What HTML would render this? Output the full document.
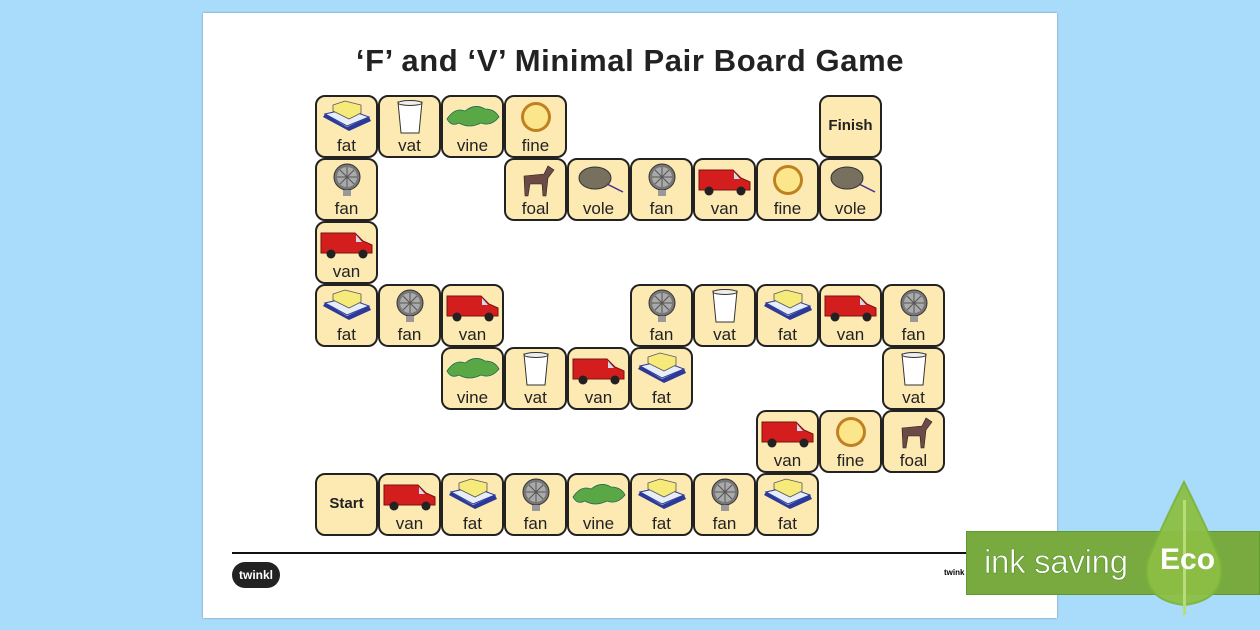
<!DOCTYPE html>
<html><head><meta charset="utf-8"><style>
body{margin:0;width:1260px;height:630px;background:#a9dcfb;position:relative;overflow:hidden;font-family:"Liberation Sans",sans-serif}
.paper{position:absolute;left:203px;top:13px;width:854px;height:605px;background:#fff;box-shadow:0 0 2px #789}
h1{position:absolute;left:203px;width:854px;top:43px;margin:0;text-align:center;font-size:31px;font-weight:bold;color:#222;letter-spacing:0.6px}
.t{position:absolute;width:59px;height:59px;background:#fdeab3;border:2px solid #222;border-radius:10px;box-sizing:content-box}
.t span{position:absolute;left:0;right:0;top:39px;text-align:center;font-size:17px;color:#222}
.t svg{position:absolute;left:2px;top:2px;width:55px;height:36px}
.t b{position:absolute;left:0;right:0;top:20px;text-align:center;font-size:15px;color:#222}
.line{position:absolute;left:232px;top:552px;width:800px;height:2px;background:#111}
.logo{position:absolute;left:232px;top:562px;width:48px;height:26px;background:#222;border-radius:13px;color:#fff;font-size:12px;font-weight:bold;text-align:center;line-height:26px}
.banner{position:absolute;left:966px;top:531px;width:294px;height:64px;background:#79aa3f;border:1px solid #5f9a2a;box-sizing:border-box}
.ink{position:absolute;left:984px;top:543px;font-size:33px;color:#fff;font-family:"Liberation Sans",sans-serif;-webkit-text-stroke:0.5px #4c8a1e;letter-spacing:-0.3px}
.eco{position:absolute;left:1160px;top:543px;font-size:30px;font-weight:bold;color:#fff}
</style></head><body>
<svg width="0" height="0" style="position:absolute">
<defs>
<symbol id="fat" viewBox="0 0 55 36"><path d="M4 18 L30 32 L52 22 L50 18 L28 28 L6 15Z" fill="#2b3a9a"/><path d="M6 15 L28 27 L50 18 L28 10Z" fill="#e8eef8" stroke="#2b3a9a"/><path d="M14 12 L30 20 L42 14 L42 6 L26 2 L14 6Z" fill="#f6ea7a" stroke="#555" stroke-width=".8"/></symbol>
<symbol id="vat" viewBox="0 0 55 36"><path d="M16 3 L40 3 L37 34 L19 34Z" fill="#fff" stroke="#333"/><ellipse cx="28" cy="4" rx="12" ry="2.5" fill="#eee" stroke="#333"/></symbol>
<symbol id="vine" viewBox="0 0 55 36"><path d="M2 20 Q10 8 20 12 Q30 4 40 10 Q50 10 54 18 Q46 28 36 24 Q24 30 14 24 Q6 28 2 20Z" fill="#5aa845" stroke="#265" stroke-width=".8"/></symbol>
<symbol id="fine" viewBox="0 0 55 36"><circle cx="28" cy="18" r="15" fill="#c08020"/><circle cx="28" cy="18" r="12.5" fill="#fbe68c" stroke="#c08020"/></symbol>
<symbol id="fan" viewBox="0 0 55 36"><circle cx="28" cy="15" r="13" fill="#777" stroke="#333"/><circle cx="28" cy="15" r="10" fill="#aaa"/><path d="M28 5 L28 25 M18 15 L38 15 M21 8 L35 22 M35 8 L21 22" stroke="#555"/><rect x="24" y="28" width="8" height="6" fill="#999"/></symbol>
<symbol id="van" viewBox="0 0 55 36"><path d="M2 24 L2 8 L36 8 L44 16 L53 20 L53 28 L2 28Z" fill="#d41e1e" stroke="#711"/><path d="M37 10 L43 17 L37 17Z" fill="#cde"/><circle cx="12" cy="29" r="4.5" fill="#222"/><circle cx="44" cy="29" r="4.5" fill="#222"/></symbol>
<symbol id="vole" viewBox="0 0 55 36"><ellipse cx="24" cy="16" rx="16" ry="11" fill="#77705e" stroke="#333"/><path d="M36 22 L52 30" stroke="#4a2d8a" stroke-width="1.5"/></symbol>
<symbol id="foal" viewBox="0 0 55 36"><path d="M16 14 L36 12 L40 4 L46 8 L40 16 L38 34 L35 34 L34 22 L22 22 L20 34 L17 34Z" fill="#6d4a45" stroke="#222" stroke-width=".6"/></symbol>
</defs></svg>
<div class="paper"></div>
<h1>‘F’ and ‘V’ Minimal Pair Board Game</h1>

<div class="t" style="left:315px;top:95px"><svg><use href="#fat"/></svg><span>fat</span></div>
<div class="t" style="left:378px;top:95px"><svg><use href="#vat"/></svg><span>vat</span></div>
<div class="t" style="left:441px;top:95px"><svg><use href="#vine"/></svg><span>vine</span></div>
<div class="t" style="left:504px;top:95px"><svg><use href="#fine"/></svg><span>fine</span></div>
<div class="t" style="left:819px;top:95px"><b>Finish</b></div>

<div class="t" style="left:315px;top:158px"><svg><use href="#fan"/></svg><span>fan</span></div>
<div class="t" style="left:504px;top:158px"><svg><use href="#foal"/></svg><span>foal</span></div>
<div class="t" style="left:567px;top:158px"><svg><use href="#vole"/></svg><span>vole</span></div>
<div class="t" style="left:630px;top:158px"><svg><use href="#fan"/></svg><span>fan</span></div>
<div class="t" style="left:693px;top:158px"><svg><use href="#van"/></svg><span>van</span></div>
<div class="t" style="left:756px;top:158px"><svg><use href="#fine"/></svg><span>fine</span></div>
<div class="t" style="left:819px;top:158px"><svg><use href="#vole"/></svg><span>vole</span></div>

<div class="t" style="left:315px;top:221px"><svg><use href="#van"/></svg><span>van</span></div>

<div class="t" style="left:315px;top:284px"><svg><use href="#fat"/></svg><span>fat</span></div>
<div class="t" style="left:378px;top:284px"><svg><use href="#fan"/></svg><span>fan</span></div>
<div class="t" style="left:441px;top:284px"><svg><use href="#van"/></svg><span>van</span></div>
<div class="t" style="left:630px;top:284px"><svg><use href="#fan"/></svg><span>fan</span></div>
<div class="t" style="left:693px;top:284px"><svg><use href="#vat"/></svg><span>vat</span></div>
<div class="t" style="left:756px;top:284px"><svg><use href="#fat"/></svg><span>fat</span></div>
<div class="t" style="left:819px;top:284px"><svg><use href="#van"/></svg><span>van</span></div>
<div class="t" style="left:882px;top:284px"><svg><use href="#fan"/></svg><span>fan</span></div>

<div class="t" style="left:441px;top:347px"><svg><use href="#vine"/></svg><span>vine</span></div>
<div class="t" style="left:504px;top:347px"><svg><use href="#vat"/></svg><span>vat</span></div>
<div class="t" style="left:567px;top:347px"><svg><use href="#van"/></svg><span>van</span></div>
<div class="t" style="left:630px;top:347px"><svg><use href="#fat"/></svg><span>fat</span></div>
<div class="t" style="left:882px;top:347px"><svg><use href="#vat"/></svg><span>vat</span></div>

<div class="t" style="left:756px;top:410px"><svg><use href="#van"/></svg><span>van</span></div>
<div class="t" style="left:819px;top:410px"><svg><use href="#fine"/></svg><span>fine</span></div>
<div class="t" style="left:882px;top:410px"><svg><use href="#foal"/></svg><span>foal</span></div>

<div class="t" style="left:315px;top:473px"><b>Start</b></div>
<div class="t" style="left:378px;top:473px"><svg><use href="#van"/></svg><span>van</span></div>
<div class="t" style="left:441px;top:473px"><svg><use href="#fat"/></svg><span>fat</span></div>
<div class="t" style="left:504px;top:473px"><svg><use href="#fan"/></svg><span>fan</span></div>
<div class="t" style="left:567px;top:473px"><svg><use href="#vine"/></svg><span>vine</span></div>
<div class="t" style="left:630px;top:473px"><svg><use href="#fat"/></svg><span>fat</span></div>
<div class="t" style="left:693px;top:473px"><svg><use href="#fan"/></svg><span>fan</span></div>
<div class="t" style="left:756px;top:473px"><svg><use href="#fat"/></svg><span>fat</span></div>

<div class="line"></div>
<div class="logo">twinkl</div>
<div style="position:absolute;left:944px;top:568px;font-size:8px;font-weight:bold">twink</div>
<div class="banner"></div>
<svg style="position:absolute;left:1140px;top:480px" width="90" height="135"><path d="M44 2 Q20 50 8 80 Q0 120 44 125 Q88 120 80 80 Q68 50 44 2Z" fill="#8dbf45" stroke="#7cb53a" stroke-width="2" opacity=".95"/><rect x="43" y="20" width="3" height="115" fill="#b9dc7a"/></svg>
<div class="ink">ink saving</div>
<div class="eco">Eco</div>
</body></html>
